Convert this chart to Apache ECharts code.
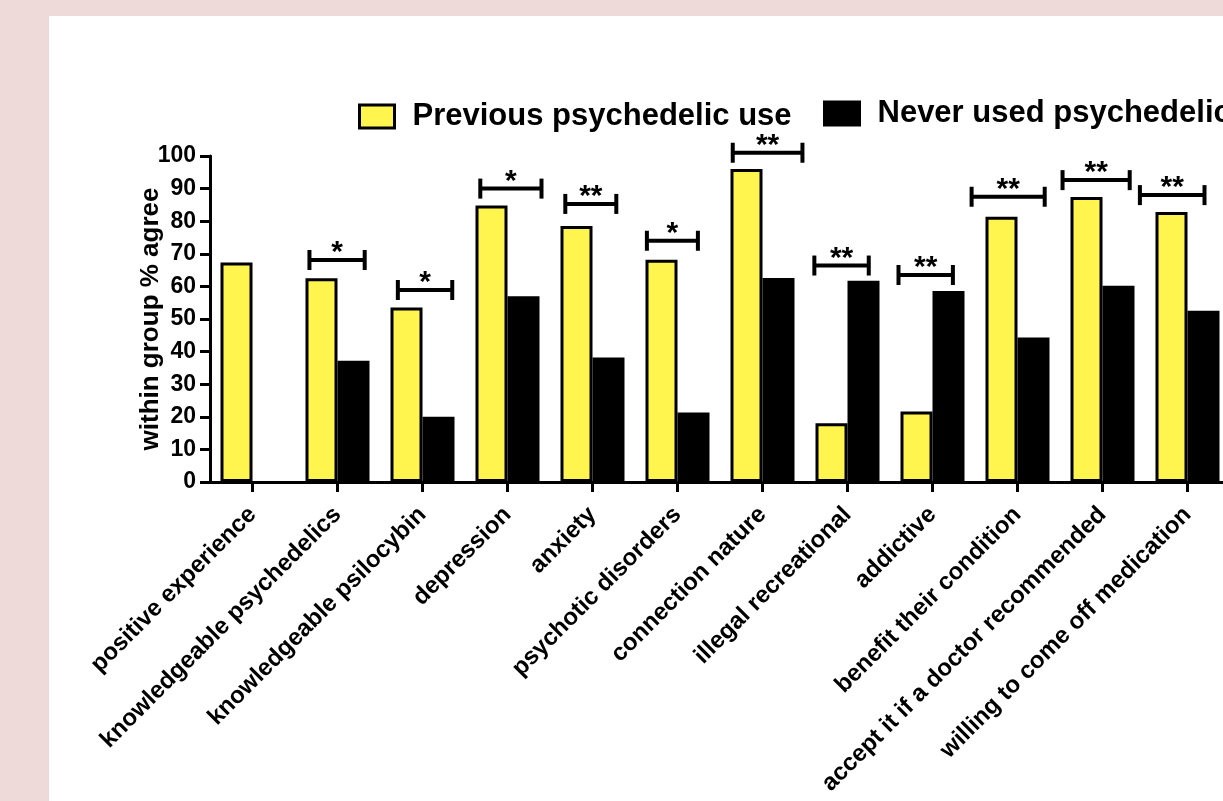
<!DOCTYPE html>
<html>
<head>
<meta charset="utf-8">
<title>Attitudes to psychedelics by prior use</title>
<script src="https://cdn.jsdelivr.net/npm/echarts@6/dist/echarts.min.js"></script>
<style>
  html, body { margin: 0; padding: 0; width: 100%; height: 100%; overflow: hidden; background: #efdada; }
  #panel { position: absolute; left: 49px; top: 16px; width: 1400px; height: 900px; background: #ffffff; }
  #chart { position: absolute; left: 0; top: 0; width: 1300px; height: 801px; }
</style>
</head>
<body>
<div id="panel"></div>
<div id="chart"></div>
<script>
// Survey statements (x axis)
const categories = [
  'positive experience',
  'knowledgeable psychedelics',
  'knowledgeable psilocybin',
  'depression',
  'anxiety',
  'psychotic disorders',
  'connection nature',
  'illegal recreational',
  'addictive',
  'benefit their condition',
  'accept it if a doctor recommended',
  'willing to come off medication'
];

// Within-group % agreeing
const previousUse = [67.3, 62.5, 53.5, 84.8, 78.5, 68.2, 96.0, 18.0, 21.6, 81.4, 87.4, 82.8];
const neverUsed   = [null, 37.2, 20.0, 57.0, 38.2, 21.3, 62.6, 61.7, 58.6, 44.3, 60.2, 52.5];

// Significance brackets: height (in %), span within the category band, and stars
const sigLevel = [null, 68.1, 58.9, 90.0, 85.3, 74.0, 101.0, 66.4, 63.5, 87.5, 92.6, 88.0];
const sigFrom  = [null, -0.33, -0.29, -0.32, -0.32, -0.36, -0.35, -0.39, -0.40, -0.54, -0.47, -0.56];
const sigTo    = [null, 0.32, 0.35, 0.40, 0.28, 0.24, 0.47, 0.25, 0.24, 0.32, 0.32, 0.20];
const sigStars = ['', '*', '*', '*', '**', '*', '**', '**', '**', '**', '**', '**'];

// Y axis ticks
const yMin = 0, yMax = 100, yStep = 10;

const seriesNames = ['Previous psychedelic use', 'Never used psychedelics'];
const FONT = '"Liberation Sans", Arial, Helvetica, sans-serif';
const YELLOW = '#fff54e';

const sigData = [];
sigLevel.forEach((lv, i) => {
  if (lv != null) sigData.push([i, lv, sigFrom[i], sigTo[i], sigStars[i]]);
});

const chart = echarts.init(document.getElementById('chart'), null, { renderer: 'canvas' });

const legendText = { fontFamily: FONT, fontWeight: 700, fontSize: 31, color: '#000', padding: [7, 0, 0, 13] };

chart.setOption({
  backgroundColor: 'transparent',
  animation: false,
  legend: [
    {
      data: [{ name: seriesNames[0], icon: 'rect', itemStyle: { color: YELLOW, borderColor: '#000', borderWidth: 3 } }],
      left: 353, top: 96,
      itemWidth: 35, itemHeight: 23,
      selectedMode: false,
      textStyle: legendText
    },
    {
      data: [{ name: seriesNames[1], icon: 'rect', itemStyle: { color: '#000', borderColor: '#000', borderWidth: 3 } }],
      left: 818, top: 93,
      itemWidth: 35, itemHeight: 23,
      selectedMode: false,
      textStyle: legendText
    }
  ],
  grid: { left: 210, top: 156, width: 1020, height: 326, outerBoundsMode: 'none', containLabel: false },
  xAxis: {
    type: 'category',
    data: categories,
    axisLine: { lineStyle: { color: '#000', width: 3 } },
    axisTick: { show: true, alignWithLabel: true, length: 10, lineStyle: { color: '#000', width: 3 } },
    axisLabel: {
      interval: 0, rotate: 45, margin: 29,
      fontFamily: FONT, fontWeight: 700, fontSize: 24, color: '#000'
    },
    splitLine: { show: false }
  },
  yAxis: {
    type: 'value',
    min: yMin, max: yMax, interval: yStep,
    name: 'within group % agree',
    nameLocation: 'middle',
    nameGap: 46,
    nameMoveOverlap: false,
    nameTextStyle: { fontFamily: FONT, fontWeight: 'bold', fontSize: 26, color: '#000' },
    axisLine: { show: true, lineStyle: { color: '#000', width: 3 } },
    axisTick: { show: true, length: 10, lineStyle: { color: '#000', width: 3 } },
    axisLabel: { margin: 14, fontFamily: FONT, fontWeight: 700, fontSize: 23, color: '#000' },
    splitLine: { show: false }
  },
  series: [
    {
      name: seriesNames[0],
      type: 'bar',
      data: previousUse,
      barWidth: 32,
      barGap: '0%',
      itemStyle: { color: YELLOW, borderColor: '#000', borderWidth: 3 }
    },
    {
      name: seriesNames[1],
      type: 'bar',
      data: neverUsed,
      barWidth: 32,
      barGap: '0%',
      itemStyle: { color: '#000', borderColor: '#000', borderWidth: 2 }
    },
    {
      name: 'significance',
      type: 'custom',
      clip: false,
      silent: true,
      data: sigData,
      encode: { x: 0, y: 1 },
      renderItem: function (params, api) {
        const idx = api.value(0);
        const level = api.value(1);
        const c = api.coord([idx, level]);
        const band = api.size([1, 0])[0];
        const x1 = c[0] + api.value(2) * band;
        const x2 = c[0] + api.value(3) * band;
        const y = c[1];
        const stroke = { stroke: '#000', lineWidth: 4 };
        return {
          type: 'group',
          children: [
            { type: 'line', shape: { x1: x1, y1: y, x2: x2, y2: y }, style: stroke },
            { type: 'line', shape: { x1: x1, y1: y - 10, x2: x1, y2: y + 10 }, style: stroke },
            { type: 'line', shape: { x1: x2, y1: y - 10, x2: x2, y2: y + 10 }, style: stroke },
            {
              type: 'text',
              x: (x1 + x2) / 2,
              y: y - 7,
              style: {
                text: sigStars[idx],
                fontFamily: FONT, fontWeight: 700, fontSize: 30,
                fill: '#000', align: 'center', verticalAlign: 'middle'
              }
            }
          ]
        };
      }
    }
  ]
});
</script>
</body>
</html>
